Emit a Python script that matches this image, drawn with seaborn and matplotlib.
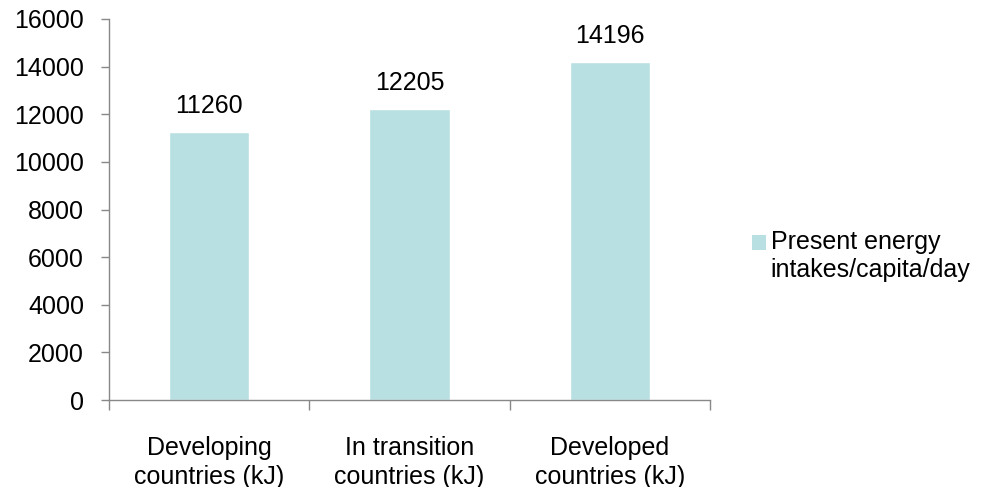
import matplotlib
matplotlib.use("Agg")
import matplotlib.pyplot as plt
from matplotlib.patches import Patch
import seaborn as sns
import pandas as pd

categories = ["Developing\ncountries (kJ)", "In transition\ncountries (kJ)", "Developed\ncountries (kJ)"]
energy_kj = [11260, 12205, 14196]
series_name = "Present energy\nintakes/capita/day"
y_ticks = [0, 2000, 4000, 6000, 8000, 10000, 12000, 14000, 16000]

bar_color = "#B8DFE1"
axis_gray = "#888888"
text_color = "#000000"
fs = 18

sns.set_theme(style="white")
plt.rcParams["font.family"] = ["Liberation Sans", "DejaVu Sans"]

df = pd.DataFrame({"category": categories, "energy": energy_kj})

fig = plt.figure(figsize=(9.86, 4.87), dpi=100)
ax = fig.add_axes([109 / 986, 1 - 400 / 487, 601 / 986, 381 / 487])

sns.barplot(data=df, x="category", y="energy", color=bar_color, width=0.4,
            saturation=1, ax=ax)

for i, v in enumerate(energy_kj):
    ax.annotate(f"{v}", xy=(i, v), xytext=(0, 10), textcoords="offset points",
                ha="center", va="bottom", fontsize=fs, color=text_color)

ax.set_xlim(-0.5, 2.5)
ax.set_ylim(0, 16000)
ax.set_yticks(y_ticks)
ax.set_xlabel("")
ax.set_ylabel("")

for side in ("top", "right"):
    ax.spines[side].set_visible(False)
for side in ("left", "bottom"):
    ax.spines[side].set_color(axis_gray)
    ax.spines[side].set_linewidth(1.0)

ax.tick_params(axis="y", which="major", left=True, length=6, width=1,
               color=axis_gray, labelsize=fs, labelcolor=text_color, pad=12)
ax.tick_params(axis="x", which="major", bottom=False, length=0,
               labelsize=fs, labelcolor=text_color, pad=26)
ax.set_xticks([-0.5, 0.5, 1.5, 2.5], minor=True)
ax.tick_params(axis="x", which="minor", bottom=True, length=7, width=1,
               color=axis_gray)
for lbl in ax.get_xticklabels():
    lbl.set_linespacing(1.25)

handles = [Patch(facecolor=bar_color, edgecolor="none", label=series_name)]
leg = fig.legend(handles=handles, loc="center left",
                 bbox_to_anchor=(752 / 986, 1 - 256 / 487),
                 frameon=False, fontsize=fs, handlelength=0.55, handleheight=0.55,
                 handletextpad=0.2, borderpad=0, borderaxespad=0,
                 labelcolor=text_color)
for t in leg.get_texts():
    t.set_linespacing(1.2)
# keep the swatch level with the first line of the label
for h in leg.legend_handles:
    h.set_y(h.get_y() + 10.5)

fig.savefig("out.png", dpi=100, facecolor="white")
